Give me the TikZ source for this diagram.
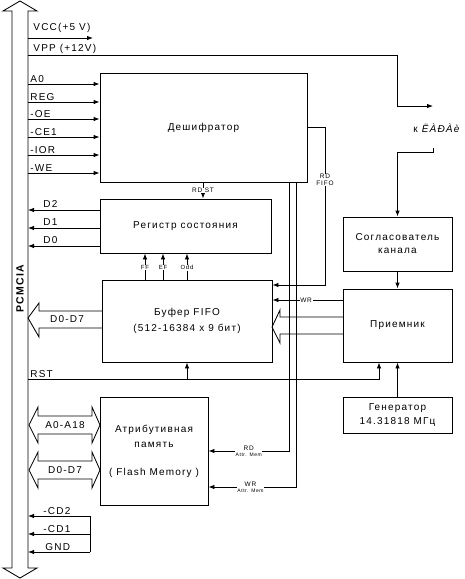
\documentclass[tikz,border=0pt]{standalone}
\usepackage{fontspec}
\setmainfont{Liberation Sans}[LetterSpace=12]
\usetikzlibrary{arrows.meta}
\begin{document}
\begin{tikzpicture}[x=1pt,y=-1pt,line width=0.85pt,
  box/.style={draw,rectangle,inner sep=0pt,font=\fontsize{10}{15}\selectfont,align=center},
  arr/.style={-{Latex[length=6pt,width=4.5pt]}},
  sig/.style={font=\fontsize{10}{10}\selectfont,anchor=base west,inner sep=0pt},
  tag/.style={fill=white,inner sep=0.6pt,font=\fontsize{6.5}{7}\selectfont,align=center},
  big/.style={font=\fontsize{10}{10}\selectfont,inner sep=0pt}]
\useasboundingbox (0,0) rectangle (465,579);
% blocks
\node[box,minimum width=207pt,minimum height=109pt] (dec) at (203.5,127.5) {Дешифратор};
\node[box,minimum width=171pt,minimum height=54pt] (reg) at (185.5,226) {Регистр состояния};
\node[box,minimum width=170pt,minimum height=82pt,font=\fontsize{10}{16}\selectfont] (buf) at (187,321) {Буфер FIFO\\(512-16384 x 9 бит)};
\node[box,minimum width=108pt,minimum height=108pt] (mem) at (154,451) {Атрибутивная\\память\\[13pt]( Flash Memory )};
\node[box,minimum width=109pt,minimum height=54pt,font=\fontsize{10}{13}\selectfont] (sog) at (397.5,244) {Согласователь\\канала};
\node[box,minimum width=109pt,minimum height=73pt] (rcv) at (397.5,325.5) {Приемник};
\node[box,minimum width=109pt,minimum height=36pt,font=\fontsize{10}{14}\selectfont] (gen) at (397.5,415) {Генератор\\ 14.31818 МГц};
% PCMCIA bus
\draw (12,11) -- (3,11) -- (20,1) -- (37,11) -- (28,11) -- (28,568) -- (37,568) -- (20,578) -- (3,568) -- (12,568) -- cycle;
\node[rotate=90,font=\bfseries\fontsize{10.5}{10}\selectfont] (pcm) at (20,289) {PCMCIA};
% power
\coordinate (bVCC) at (28,38);
\coordinate (vccend) at (93,38);
\draw[arr] (bVCC) -- (vccend);
\node[sig] (lVCC) at (33,30) {VCC(+5 V)};
\coordinate (bVPP) at (28,55);
\coordinate (vppA) at (397,55);
\coordinate (vppB) at (397,106);
\coordinate (vppE) at (433,106);
\draw[arr] (bVPP) -- (vppA) -- (vppB) -- (vppE);
\node[sig] (lVPP) at (33,51) {VPP (+12V)};
\node[font=\fontsize{10}{10}\selectfont] (kl) at (437,128) {к \textit{ËÀÐÀè}};
\coordinate (k2a) at (433,148);
\coordinate (k2b) at (433,152);
\draw[arr] (k2a) -- (k2b) -- (k2b -| sog.north) -- (sog.north);
% inputs to decoder
\foreach \n/\t/\y in {a/A0/84,b/REG/102,c/-OE/119,d/-CE1/137,e/-IOR/155,f/-WE/173}{
  \coordinate (in\n) at (28,\y);
  \draw[arr] (in\n) -- (in\n -| dec.west);
  \node[sig] (l\n) at (30,\y-2) {\t};
}
% status register outputs
\foreach \n/\y in {2/210,1/228,0/246}{
  \coordinate (bD\n) at (28,\y);
  \draw[arr] (reg.west |- bD\n) -- (bD\n);
  \node[sig] (lD\n) at (43,\y-3) {D\n};
}
% RD ST
\coordinate (xrdst) at (203,0);
\draw[arr] (dec.south -| xrdst) -- (reg.north -| xrdst) node[tag,midway] (trdst) {RD ST};
% FF EF Odd
\foreach \n/\x in {FF/145,EF/163,Odd/187}{
  \coordinate (x\n) at (\x,0);
  \draw[arr] (buf.north -| x\n) -- (reg.south -| x\n) node[tag,pos=0.45,font=\fontsize{6}{7}\selectfont] (t\n) {\n};
}
% RD FIFO
\coordinate (rf1) at (325,127.5);
\coordinate (rf2) at (325,285);
\draw[arr] (dec.east) -- (rf1) -- (rf2) -- (buf.east |- rf2);
\node[tag] (trf) at (325,180) {RD\\FIFO};
% WR from receiver
\coordinate (wr) at (343,300);
\draw[arr] (rcv.west |- wr) -- (buf.east |- wr) node[tag,pos=0.52] (twr) {WR};
% hollow arrow receiver -> buffer
\draw (343,317) -- (280,317) -- (280,310) -- (272,327) -- (280,343) -- (280,334) -- (343,334);
% hollow arrow buffer -> bus D0-D7
\draw (102,311) -- (39,311) -- (39,303) -- (28,318) -- (39,337) -- (39,328) -- (102,328);
\node[big] (lD07) at (67,319.5) {D0-D7};
% decoder -> attribute memory
\coordinate (v1) at (289,0);
\coordinate (v2) at (296,0);
\coordinate (v1b) at (289,451);
\coordinate (v2b) at (296,487);
\draw[arr] (dec.south -| v1) -- (v1b) -- (v1b -| mem.east) node[tag,pos=0.5] (trdm) {RD\\[-1pt]{\fontsize{5}{6}\selectfont Attr. Mem}};
\draw[arr] (dec.south -| v2) -- (v2b) -- (v2b -| mem.east) node[tag,pos=0.52] (twrm) {WR\\[-1pt]{\fontsize{5}{6}\selectfont Attr. Mem}};
% RST
\coordinate (bRST) at (28,379);
\coordinate (rst2) at (379,379);
\draw[arr] (bRST) -- (rst2) -- (rst2 |- rcv.south);
\draw[arr] (buf.south |- bRST) -- (buf.south);
\node[sig] (lRST) at (30,377) {RST};
% generator, matcher -> receiver
\draw[arr] (gen.north) -- (rcv.south);
\draw[arr] (sog.south) -- (rcv.north);
% attribute memory buses
\draw (29,425) -- (38,407) -- (38,416) -- (92,416) -- (92,407) -- (100,425) -- (92,443) -- (92,434) -- (38,434) -- (38,443) -- cycle;
\node[big] (lA) at (65,425.5) {A0-A18};
\draw (29,470) -- (38,452) -- (38,461) -- (92,461) -- (92,452) -- (100,470) -- (92,488) -- (92,479) -- (38,479) -- (38,488) -- cycle;
\node[big] (lDm) at (65,470.5) {D0-D7};
% card detect, ground
\coordinate (cdx) at (90,516);
\coordinate (gndx) at (90,552);
\draw (cdx) -- (gndx);
\foreach \n/\t/\y/\lx in {c2/-CD2/516/43,c1/-CD1/534/43,g/GND/552/45}{
  \coordinate (b\n) at (28,\y);
  \draw[arr] (cdx |- b\n) -- (b\n);
  \node[sig] (l\n) at (\lx,\y-2) {\t};
}
\end{tikzpicture}
\end{document}
